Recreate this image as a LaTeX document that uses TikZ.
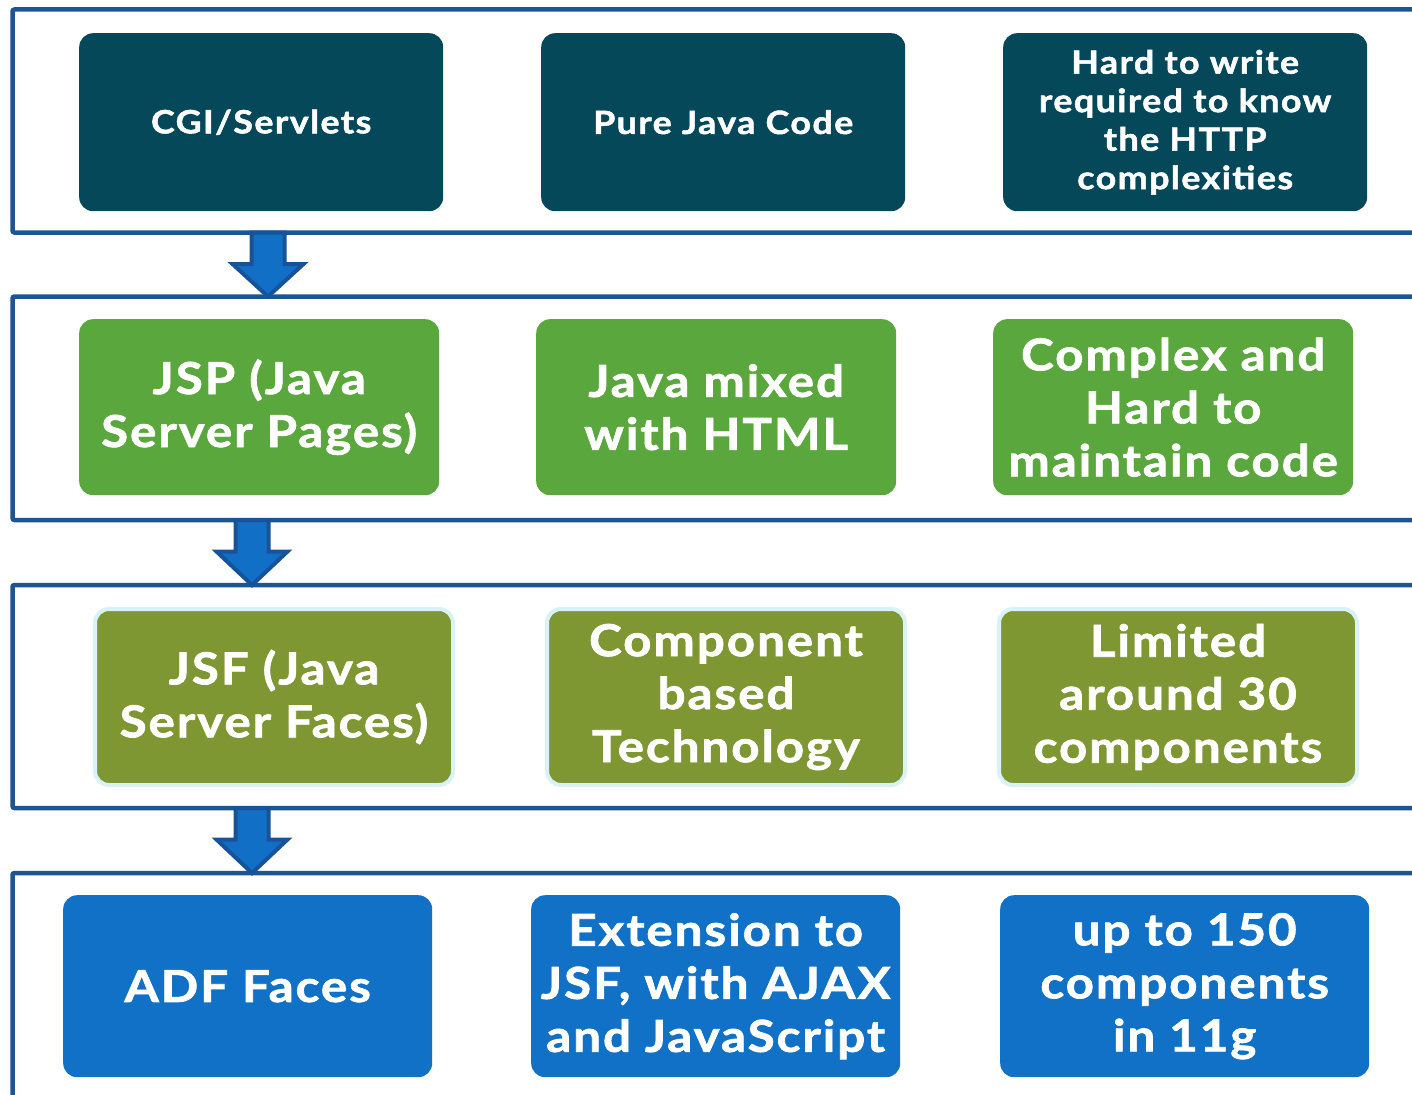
\documentclass[tikz,border=0pt]{standalone}
\usepackage{fontspec}
\setmainfont{Lato}[BoldFeatures={FakeBold=1.6, FakeStretch=1.12, LetterSpace=4.5}]
\usetikzlibrary{calc}
\definecolor{framec}{HTML}{1B5592}
\definecolor{arrowfill}{HTML}{1170C6}
\definecolor{arrowdraw}{HTML}{17539A}
\definecolor{rowone}{HTML}{04485A}
\definecolor{rowtwo}{HTML}{5AA83D}
\definecolor{rowthree}{HTML}{7F9733}
\definecolor{rowfour}{HTML}{1171C7}
\definecolor{glow}{HTML}{D8F2F7}
\begin{document}
\begin{tikzpicture}[x=1pt,y=-1pt,
  frame/.style={draw=framec, line width=4.5pt, rounded corners=2pt},
  box/.style={rounded corners=14pt, text=white, font=\bfseries, align=center,
    inner sep=0pt, anchor=north west},
  boxone/.style={box, fill=rowone, minimum width=364pt, minimum height=178pt,
    font=\bfseries\fontsize{32}{38.5}\selectfont},
  boxtwo/.style={box, fill=rowtwo, minimum width=360pt, minimum height=176pt,
    font=\bfseries\fontsize{44}{53}\selectfont},
  boxthree/.style={box, fill=rowthree, draw=glow, line width=4pt, minimum width=358pt, minimum height=176pt,
    font=\bfseries\fontsize{44}{53}\selectfont},
  boxfour/.style={box, fill=rowfour, minimum width=369pt, minimum height=182pt,
    font=\bfseries\fontsize{44}{53}\selectfont},
  blockarrow/.style={fill=arrowfill, draw=arrowdraw, line width=4pt, line join=miter}
]
\useasboundingbox (0,0) rectangle (1412,1094);
\clip (0,0) rectangle (1412,1094);
\fill[white] (0,0) rectangle (1412,1094);

% frames
\draw[frame] (1430,9.5) -- (12.5,9.5) -- (12.5,232.5) -- (1430,232.5);
\draw[frame] (1430,296.5) -- (12.5,296.5) -- (12.5,520) -- (1430,520);
\draw[frame] (1430,585) -- (12.5,585) -- (12.5,808) -- (1430,808);
\draw[frame] (1430,873) -- (12.5,873) -- (12.5,1120);

% row 1
\node[boxone] (cgi) at (79,33) {CGI/Servlets};
\node[boxone] (pure) at (541,33) {Pure Java Code};
\node[boxone] (hard) at (1003,33) {Hard to write\\required to know\\the HTTP\\complexities};

% row 2
\node[boxtwo] (jsp) at (79,319) {JSP (Java\\Server Pages)};
\node[boxtwo] (mixed) at (536,319) {Java mixed\\with HTML};
\node[boxtwo] (complex) at (993,319) {Complex and\\Hard to\\maintain code};

% row 3
\node[boxthree] (jsf) at (93,607) {JSF (Java\\Server Faces)};
\node[boxthree] (comp) at (545,607) {Component\\based\\Technology};
\node[boxthree] (limited) at (997,607) {Limited\\around 30\\components};

% row 4
\node[boxfour] (adf) at (63,895) {ADF Faces};
\node[boxfour] (ext) at (531,895) {Extension to\\JSF, with AJAX\\and JavaScript};
\node[boxfour] (upto) at (1000,895) {up to 150\\components\\in 11g};

% arrows
\coordinate (a1s) at (268,232.5); \coordinate (a1t) at (268,296.5);
\coordinate (a2s) at (252,520);   \coordinate (a2t) at (252,585);
\coordinate (a3s) at (252,808);   \coordinate (a3t) at (252,873);
\foreach \s/\t in {a1s/a1t, a2s/a2t, a3s/a3t}{
  \draw[blockarrow] ($(\s)+(-16.5,0)$) -- ($(\s)+(16.5,0)$) -- ($(\s)+(16.5,31.5)$)
    -- ($(\s)+(35.5,31.5)$) -- (\t) -- ($(\s)+(-35.5,31.5)$) -- ($(\s)+(-16.5,31.5)$) -- cycle;
}
\end{tikzpicture}
\end{document}
